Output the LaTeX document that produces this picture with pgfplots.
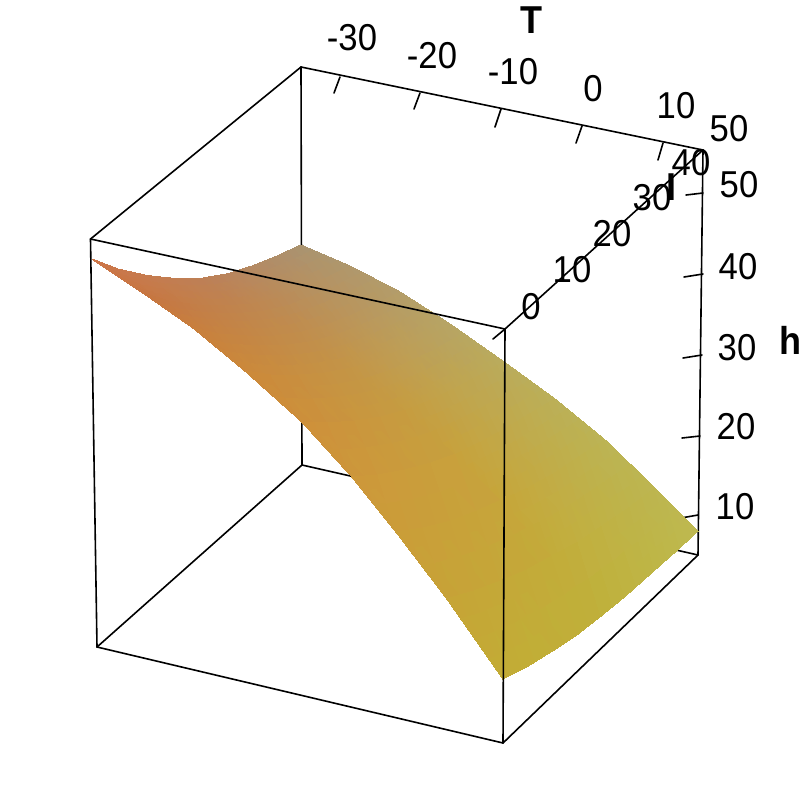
\documentclass[border=0pt]{standalone}
\usepackage{pgfplots}
\usepackage{fontspec}
\setmainfont{Liberation Sans}
\pgfplotsset{compat=1.18}
\newcommand\lab[1]{\scalebox{1}[1.08]{\fontsize{26}{26}\selectfont #1}}
\newcommand\blab[1]{\scalebox{1}[1.08]{\fontsize{27}{27}\selectfont\bfseries #1}}
\tikzset{edge/.style={draw=black,solid,line width=1.2pt,line cap=round,mark=none}}
\begin{document}
\begin{tikzpicture}[x=1pt,y=1pt]
\path[use as bounding box] (0,0) rectangle (600,600);
\begin{axis}[
  at={(0,0)},anchor=south west,
  scale only axis,width=600pt,height=600pt,
  xmin=0,xmax=800,ymin=0,ymax=800,zmin=-1,zmax=1,
  y dir=reverse,view={0}{90},
  hide axis,clip=false,
]
% back edges and ticks (behind the surface)
\addplot3[edge] coordinates {(301,67,0) (703,150,0)};
\addplot3[edge] coordinates {(301,67,0) (302,465,0)};
\addplot3[edge] coordinates {(302,465,0) (698,555,0)};
\addplot3[edge] coordinates {(505,329,0) (703,150,0)};
\addplot3[edge] coordinates {(505,329,0) (493,339,0)};
\addplot3[edge] coordinates {(703,150,0) (698,555,0)};
\addplot3[edge] coordinates {(340,77,0) (334,93,0)};
\addplot3[edge] coordinates {(420,93,0) (414,109,0)};
\addplot3[edge] coordinates {(501,109,0) (495,127,0)};
\addplot3[edge] coordinates {(582,126,0) (576,143,0)};
\addplot3[edge] coordinates {(663,143,0) (658,160,0)};
\addplot3[edge] coordinates {(703,193,0) (686,195,0)};
\addplot3[edge] coordinates {(703,274,0) (684,277,0)};
\addplot3[edge] coordinates {(702,355,0) (683,358,0)};
\addplot3[edge] coordinates {(700,436,0) (682,438,0)};
\addplot3[edge] coordinates {(698,515,0) (681,518,0)};
% surface
\addplot3[surf,shader=interp,mesh/cols=9,
  mesh/color input=explicit mathparse,
  point meta={symbolic={\thisrow{r}/255,\thisrow{g}/255,\thisrow{b}/255}}]
table[x=x,y=y,z expr=0] {
x y r g b
92 259 205 118 72
118 269 201 120 75
147 275.5 197 123 78
175 278.5 193 126 82
203 278 189 128 86
229 273.5 185 133 93
252 266 180 138 99
277 256 175 143 106
301 245 170 148 112
143 293 199 118 64
169 301 197 122 68
197 305 195 127 72
225 306 193 131 76
252 304 191 135 80
278 298 187 139 87
301 289 183 144 94
326 278 180 148 101
350 266 176 152 108
193 328 201 128 60
219 334 199 132 64
247 336 197 135 68
275 336 195 139 72
302 332 193 142 76
327 325 190 146 83
350 316 187 150 90
376 304 183 154 98
400 292 180 158 105
245 371 204 138 58
271 375 202 141 61
299 375 200 144 64
325 373 198 147 67
352 368 196 150 70
377 360 193 154 78
400 350 190 158 85
426 338 186 161 93
450 324 183 165 100
302 422 206 145 58
328 423 204 148 60
355 421 202 151 61
381 417 200 154 63
406 410 198 157 64
431 400 195 161 71
454 389 192 165 78
480 375 189 168 85
504 362 186 172 92
352 477 205 152 58
378 475 204 155 59
405 470 202 157 59
431 463 201 160 60
456 454 199 162 60
481 442 196 166 67
505 429 193 169 74
531 413 190 173 81
555 399 187 176 88
396 532 202 158 56
423 528 201 160 57
451 521 200 162 57
477 511 199 164 58
502 500 198 166 58
528 488 196 170 64
553 474 193 173 71
580 456 190 177 77
605 440 188 180 84
447 599 198 165 54
474 591 197 167 55
501 581 196 169 56
527 570 195 171 57
552 556 194 173 58
578 542 193 176 63
602 526 192 178 68
630 507 190 180 74
655 488 189 182 80
503 679 194 173 53
529 665.5 193 175 54
554 650 192 176 56
578 634 191 177 57
601 616 190 178 58
625 596.5 190 180 63
648 576 190 182 68
674 553 190 184 74
698 531 191 185 80
};
% front edges
\addplot3[edge] coordinates {(90.5,239,0) (301,67,0)};
\addplot3[edge] coordinates {(90.5,239,0) (505,329,0)};
\addplot3[edge] coordinates {(90.5,239,0) (97,647,0)};
\addplot3[edge] coordinates {(505,329,0) (503,743,0)};
\addplot3[edge] coordinates {(97,647,0) (503,743,0)};
\addplot3[edge] coordinates {(97,647,0) (302,465,0)};
\addplot3[edge] coordinates {(503,743,0) (698,555,0)};
% labels
\node at (axis cs:352,38) {\lab{-30}};
\node at (axis cs:432,56) {\lab{-20}};
\node at (axis cs:513,72) {\lab{-10}};
\node at (axis cs:593,89) {\lab{0}};
\node at (axis cs:676,106) {\lab{10}};
\node at (axis cs:729,129) {\lab{50}};
\node at (axis cs:531,20) {\blab{T}};
\node at (axis cs:531,307) {\lab{0}};
\node at (axis cs:572,270) {\lab{10}};
\node at (axis cs:612,234) {\lab{20}};
\node at (axis cs:652,198) {\lab{30}};
\node at (axis cs:691,163) {\lab{40}};
\node at (axis cs:671,187) {\blab{I}};
\node at (axis cs:739,185) {\lab{50}};
\node at (axis cs:738,267) {\lab{40}};
\node at (axis cs:737,348) {\lab{30}};
\node at (axis cs:736,427) {\lab{20}};
\node at (axis cs:735,507) {\lab{10}};
\node at (axis cs:790,340) {\blab{h}};
\end{axis}
\end{tikzpicture}
\end{document}
